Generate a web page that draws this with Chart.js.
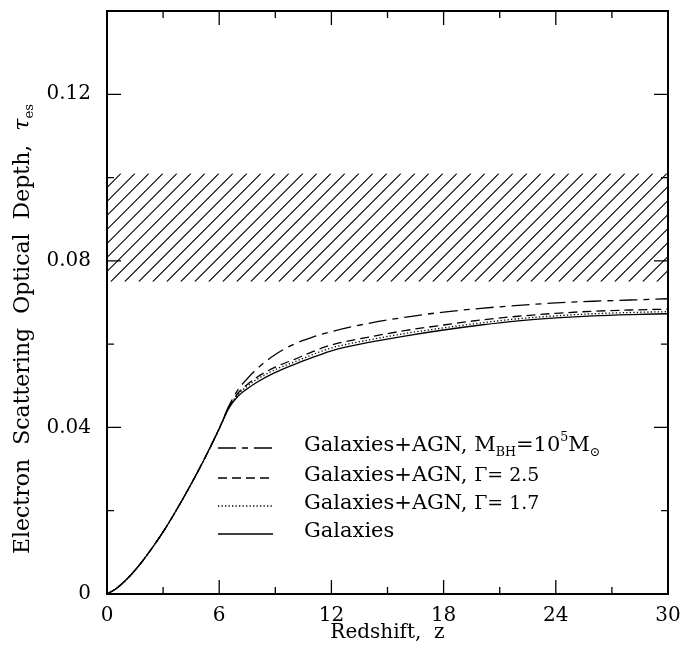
<!DOCTYPE html>
<html>
<head>
<meta charset="utf-8">
<script src="https://cdn.jsdelivr.net/npm/chart.js@4"></script>
<style>
  html, body { margin: 0; padding: 0; background: #fff; }
  #wrap { width: 684px; height: 653px; }
</style>
</head>
<body>
<div id="wrap"><canvas id="tauChart" width="684" height="653"></canvas></div>
<script>
// redshift grid the curves were read at
const zValues = [0, 0.5, 1, 1.5, 2, 2.5, 3, 4, 5, 6, 6.5, 7, 7.5, 8, 9, 10, 11, 12, 14, 16, 18, 20, 22, 24, 26, 28, 30];

// all models share the same curve up to z = 6
const tauCommon = [0, 0.00133, 0.0033, 0.0057, 0.0085, 0.0116, 0.0149, 0.0224, 0.0306, 0.0397];
const tauGalaxies = tauCommon.concat([0.0445, 0.0475, 0.0493, 0.0508, 0.0532, 0.0551, 0.0568, 0.0584, 0.0604, 0.0620, 0.0634, 0.0646, 0.0656, 0.0663, 0.0668, 0.0671, 0.0673]);
const tauGamma17 = tauCommon.concat([0.0446, 0.0479, 0.0499, 0.0515, 0.0539, 0.0557, 0.0575, 0.0591, 0.0610, 0.0626, 0.0639, 0.0651, 0.0661, 0.0668, 0.0673, 0.0676, 0.0678]);
const tauGamma25 = tauCommon.concat([0.0447, 0.0482, 0.0503, 0.0520, 0.0545, 0.0563, 0.0582, 0.0598, 0.0617, 0.0633, 0.0646, 0.0658, 0.0667, 0.0674, 0.0679, 0.0682, 0.0684]);
const tauBH = tauCommon.concat([0.0450, 0.0490, 0.0517, 0.0540, 0.0575, 0.0600, 0.0617, 0.0630, 0.0650, 0.0665, 0.0677, 0.0686, 0.0693, 0.0699, 0.0703, 0.0706, 0.0709]);

// observed range (hatched band)
const tauBandLow = 0.075;
const tauBandHigh = 0.101;

const xTickLabels = [0, 6, 12, 18, 24, 30];
const yTickLabels = ['0', '0.04', '0.08', '0.12'];
const seriesNames = ['Galaxies+AGN, MBH=10^5Msun', 'Galaxies+AGN, Γ= 2.5', 'Galaxies+AGN, Γ= 1.7', 'Galaxies'];

const FONT = '"DejaVu Serif", "Liberation Serif", serif';

function toPoints(ys) {
    return zValues.map((z, i) => ({ x: z, y: ys[i] }));
}

// rich text pieces for the legend (sub/superscripts)
const legendText = [
    [['Galaxies+AGN, M', 'n'], ['BH', 'sub'], ['=10', 'n'], ['5', 'sup'], ['M', 'n'], ['\u2299', 'sub']],
    [['Galaxies+AGN, ', 'n'], ['\u0393= 2.5', 'sm']],
    [['Galaxies+AGN, ', 'n'], ['\u0393= 1.7', 'sm']],
    [['Galaxies', 'n']]
];

function partSize(kind, size) {
    if (kind === 'sub' || kind === 'sup') return size * 0.6;
    if (kind === 'sm') return size * 0.9;
    return size;
}

function drawRich(ctx, parts, x, y, size) {
    let cx = x;
    parts.forEach(([txt, kind]) => {
        const fs = partSize(kind, size);
        let dy = 0;
        if (kind === 'sub') dy = size * 0.3;
        if (kind === 'sup') dy = -size * 0.38;
        ctx.font = (kind === 'it' ? 'italic ' : '') + fs + 'px ' + FONT;
        ctx.fillText(txt, cx, y + dy);
        cx += ctx.measureText(txt).width;
    });
    return cx - x;
}

function richWidth(ctx, parts, size) {
    let w = 0;
    parts.forEach(([txt, kind]) => {
        ctx.font = (kind === 'it' ? 'italic ' : '') + partSize(kind, size) + 'px ' + FONT;
        w += ctx.measureText(txt).width;
    });
    return w;
}

const decorPlugin = {
    id: 'decor',
    beforeDatasetsDraw(chart) {
        const { ctx, chartArea: a, scales: { y } } = chart;
        const top = y.getPixelForValue(tauBandHigh);
        const bot = y.getPixelForValue(tauBandLow);
        const h = bot - top;
        ctx.save();
        ctx.beginPath();
        ctx.rect(a.left, top, a.right - a.left, h);
        ctx.clip();
        ctx.strokeStyle = '#000';
        ctx.lineWidth = 1.1;
        ctx.beginPath();
        for (let k = a.left - h; k < a.right + 14; k += 14) {
            ctx.moveTo(k, bot);
            ctx.lineTo(k + h, top);
        }
        ctx.stroke();
        ctx.restore();
    },
    afterDraw(chart) {
        const { ctx, chartArea: a, scales: { x, y } } = chart;
        ctx.save();
        ctx.strokeStyle = '#000';
        ctx.fillStyle = '#000';
        // frame
        ctx.lineWidth = 2;
        ctx.strokeRect(a.left, a.top, a.right - a.left, a.bottom - a.top);
        // inward ticks on all four sides
        ctx.lineWidth = 1.3;
        ctx.beginPath();
        x.ticks.forEach(t => {
            const px = x.getPixelForValue(t.value);
            const len = Math.round(t.value) % 6 === 0 ? 14 : 7;
            ctx.moveTo(px, a.bottom); ctx.lineTo(px, a.bottom - len);
            ctx.moveTo(px, a.top); ctx.lineTo(px, a.top + len);
        });
        y.ticks.forEach(t => {
            const py = y.getPixelForValue(t.value);
            const len = Math.round(t.value * 100) % 4 === 0 ? 14 : 7;
            ctx.moveTo(a.left, py); ctx.lineTo(a.left + len, py);
            ctx.moveTo(a.right, py); ctx.lineTo(a.right - len, py);
        });
        ctx.stroke();

        // axis titles
        ctx.textBaseline = 'middle';
        ctx.font = '20px ' + FONT;
        ctx.textAlign = 'center';
        ctx.fillText('Redshift,  z', (a.left + a.right) / 2, 633);

        ctx.textAlign = 'left';
        ctx.save();
        ctx.translate(23, 0);
        ctx.rotate(-Math.PI / 2);
        const yParts = [['Electron  Scattering  Optical  Depth,  ', 'n'], ['\u03c4', 'it'], ['es', 'sub']];
        const w = richWidth(ctx, yParts, 22);
        drawRich(ctx, yParts, -(329 + w / 2), 0, 22);
        ctx.restore();

        // legend
        const rowY = [446, 476, 504, 532];
        chart.data.datasets.forEach((ds, i) => {
            ctx.save();
            ctx.lineWidth = 1.3;
            ctx.setLineDash(ds.borderDash || []);
            ctx.beginPath();
            ctx.moveTo(218, rowY[i] + 2);
            ctx.lineTo(273, rowY[i] + 2);
            ctx.stroke();
            ctx.restore();
            drawRich(ctx, legendText[i], 304, rowY[i], 21);
        });
        ctx.restore();
    }
};

new Chart(document.getElementById('tauChart'), {
    type: 'line',
    data: {
        datasets: [
            { label: seriesNames[0], data: toPoints(tauBH), borderDash: [18, 6, 6, 6] },
            { label: seriesNames[1], data: toPoints(tauGamma25), borderDash: [9, 5] },
            { label: seriesNames[2], data: toPoints(tauGamma17), borderDash: [1.3, 2.2] },
            { label: seriesNames[3], data: toPoints(tauGalaxies), borderDash: [] }
        ].map(d => Object.assign(d, {
            borderColor: '#000',
            borderWidth: 1.3,
            pointRadius: 0,
            cubicInterpolationMode: 'monotone',
            fill: false
        }))
    },
    options: {
        responsive: false,
        animation: false,
        layout: { padding: { top: 11, right: 16, left: 0, bottom: 0 } },
        plugins: { legend: { display: false }, tooltip: { enabled: false } },
        scales: {
            x: {
                type: 'linear',
                min: 0, max: 30,
                grid: { display: false, drawTicks: false },
                border: { display: false },
                afterFit: s => { s.height = 59; s.paddingLeft = 0; s.paddingRight = 0; },
                ticks: {
                    stepSize: 3,
                    padding: 10,
                    color: '#000',
                    font: { family: FONT, size: 20 },
                    maxRotation: 0,
                    autoSkip: false,
                    callback: v => xTickLabels.includes(Math.round(v)) && Math.abs(v - Math.round(v)) < 1e-6 ? String(Math.round(v)) : ''
                }
            },
            y: {
                min: 0, max: 0.14,
                grid: { display: false, drawTicks: false },
                border: { display: false },
                afterFit: s => { s.width = 107; s.paddingTop = 0; s.paddingBottom = 0; },
                ticks: {
                    stepSize: 0.02,
                    padding: 16,
                    color: '#000',
                    font: { family: FONT, size: 20 },
                    autoSkip: false,
                    callback: v => {
                        const n = Math.round(v * 100);
                        return n % 4 === 0 ? yTickLabels[n / 4] || '' : '';
                    }
                }
            }
        }
    },
    plugins: [decorPlugin]
});
</script>
</body>
</html>
